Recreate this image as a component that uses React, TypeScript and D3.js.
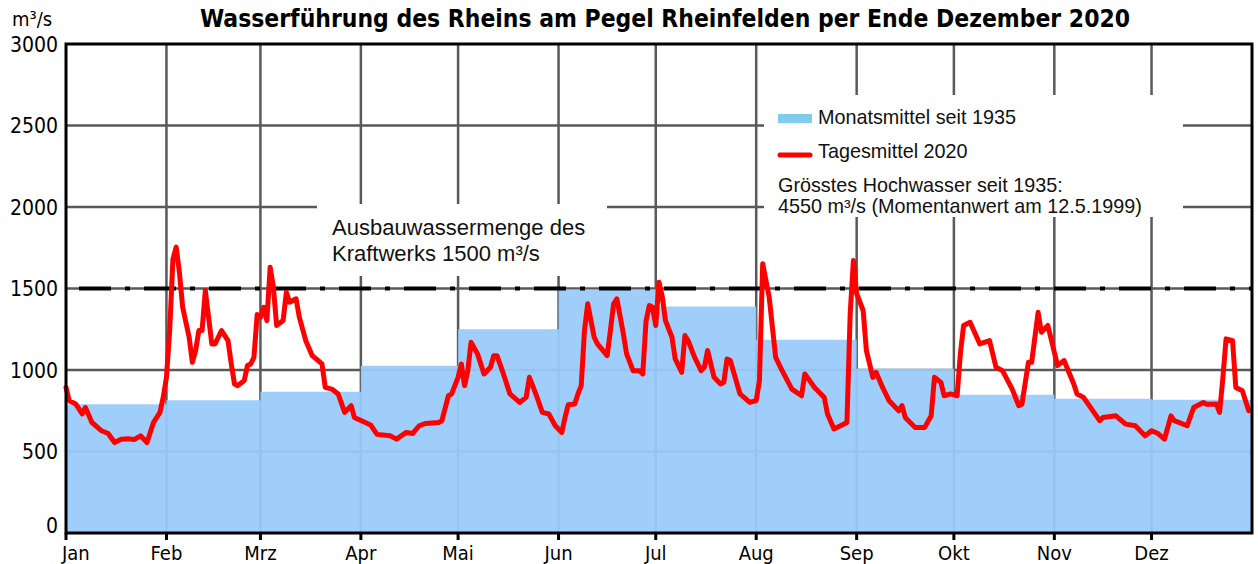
import React, { useEffect, useRef } from 'react';
import * as d3 from 'd3';

const monthLabels = ['Jan', 'Feb', 'Mrz', 'Apr', 'Mai', 'Jun', 'Jul', 'Aug', 'Sep', 'Okt', 'Nov', 'Dez'];

// Monatsmittel seit 1935 (m³/s)
const monthlyMean = [790, 815, 866, 1026, 1250, 1494, 1389, 1186, 1008, 848, 823, 817];

// Tagesmittel 2020: day of year (0 = 1 Jan) and value (m³/s)
const dailyDays = [
    0, 1, 3, 5, 6, 8, 11, 13, 15, 17, 19, 21, 23, 25, 27, 29, 30, 31, 32, 33,
    34, 35, 36, 38, 39, 40, 41, 42, 43, 44, 45, 46, 48, 50, 51, 52, 53, 55, 56, 57,
    58, 59, 60, 61, 62, 63, 64, 65, 67, 68, 69, 71, 72, 74, 76, 79, 80, 82, 84, 86,
    88, 89, 91, 94, 96, 100, 102, 105, 107, 109, 111, 115, 116, 118, 119, 121, 122, 123, 124, 125,
    127, 129, 131, 132, 133, 135, 137, 140, 142, 143, 145, 147, 149, 151, 153, 154, 155, 157, 158, 159,
    160, 161, 163, 164, 167, 168, 169, 170, 172, 173, 175, 177, 178, 179, 180, 181, 182, 183, 184, 185,
    187, 188, 190, 191, 192, 194, 196, 197, 198, 200, 202, 203, 204, 205, 208, 211, 213, 214, 215, 217,
    219, 221, 224, 227, 228, 231, 234, 235, 237, 241, 242, 243, 244, 246, 247, 249, 250, 252, 254, 257,
    258, 259, 262, 265, 267, 268, 270, 271, 273, 275, 276, 277, 279, 282, 285, 287, 289, 292, 294, 295,
    297, 298, 300, 301, 303, 306, 308, 311, 312, 314, 319, 320, 324, 327, 330, 333, 335, 337, 339, 341,
    342, 346, 348, 351, 352, 355, 356, 357, 358, 360, 361, 363, 365
];
const dailyValues = [
    893, 811, 792, 731, 770, 678, 627, 610, 555, 575, 578, 573, 596, 555, 678, 740, 832, 955, 1242, 1680,
    1754, 1600, 1385, 1201, 1047, 1119, 1242, 1242, 1488, 1324, 1160, 1160, 1242, 1180, 1037, 914, 904, 935, 1027, 1037,
    1078, 1340, 1324, 1385, 1303, 1631, 1508, 1273, 1303, 1477, 1416, 1437, 1324, 1180, 1088, 1037, 893, 883, 853, 740,
    781, 709, 690, 663, 605, 596, 576, 617, 611, 658, 672, 678, 689, 842, 853, 955, 1037, 904, 996, 1170,
    1099, 976, 1017, 1088, 1088, 976, 853, 801, 832, 955, 853, 740, 730, 658, 617, 709, 787, 791, 853, 904,
    1242, 1406, 1201, 1160, 1088, 1242, 1406, 1437, 1222, 1099, 996, 996, 976, 1300, 1396, 1385, 1273, 1539, 1450, 1303,
    1201, 1068, 986, 1211, 1180, 1078, 996, 1017, 1119, 955, 914, 924, 1068, 1058, 853, 801, 812, 935, 1652, 1447,
    1078, 996, 883, 842, 976, 893, 832, 730, 638, 678, 1345, 1672, 1468, 1365, 1119, 955, 986, 893, 812, 750,
    781, 709, 648, 648, 719, 955, 924, 842, 853, 842, 1100, 1273, 1293, 1160, 1180, 1017, 996, 883, 781, 790,
    1047, 1047, 1354, 1232, 1273, 1027, 1058, 914, 853, 832, 689, 709, 719, 668, 658, 596, 627, 610, 576, 719,
    689, 658, 770, 801, 790, 791, 740, 950, 1191, 1180, 893, 873, 750
];

const yTicks = [0, 500, 1000, 1500, 2000, 2500, 3000];
const capacity = 1500;

const App: React.FC = () => {
    const svgRef = useRef<SVGSVGElement>(null);

    useEffect(() => {
        if (!svgRef.current) return;
        document.body.style.margin = '0';

        const svg = d3.select(svgRef.current);
        svg.selectAll('*').remove();

        const width = 1258;
        const height = 564;
        const left = 66, right = 1252, top = 44, bottom = 533;
        const axisFont = "'DejaVu Sans Condensed', 'DejaVu Sans', sans-serif";
        const textFont = "'Liberation Sans', Arial, sans-serif";

        svg.attr('width', width).attr('height', height);

        const start = new Date(Date.UTC(2020, 0, 1));
        const end = new Date(Date.UTC(2021, 0, 1));
        const x = d3.scaleUtc().domain([start, end]).range([left, right]);
        const y = d3.scaleLinear().domain([0, 3000]).range([bottom, top]);
        const monthStarts = d3.utcMonth.range(start, end);
        const dayDate = (d: number) => d3.utcDay.offset(start, d);

        // grid
        const grid = svg.append('g').attr('stroke', '#595959').attr('stroke-width', 2.5);
        grid.selectAll('line.v')
            .data(monthStarts.slice(1))
            .enter().append('line')
            .attr('x1', d => x(d)).attr('x2', d => x(d))
            .attr('y1', top).attr('y2', bottom);
        grid.selectAll('line.h')
            .data(yTicks.filter(t => t > 0 && t < 3000))
            .enter().append('line')
            .attr('x1', left).attr('x2', right)
            .attr('y1', d => y(d)).attr('y2', d => y(d));

        // monthly means as steps
        const steps = monthStarts.map((m, i) => ({ date: m, v: monthlyMean[i] }));
        steps.push({ date: end, v: monthlyMean[monthlyMean.length - 1] });
        const area = d3.area<{ date: Date; v: number }>()
            .x(d => x(d.date))
            .y0(y(0))
            .y1(d => y(d.v))
            .curve(d3.curveStepAfter);
        svg.append('path')
            .datum(steps)
            .attr('d', area)
            .attr('fill', '#99CBFB')
            .attr('fill-opacity', 0.94);

        // annotation boxes
        svg.append('rect').attr('x', 317).attr('y', 204).attr('width', 290).attr('height', 72).attr('fill', '#fff');
        svg.append('rect').attr('x', 764).attr('y', 95).attr('width', 419).attr('height', 122).attr('fill', '#fff');

        // Ausbauwassermenge line
        svg.append('line')
            .attr('x1', left).attr('x2', right)
            .attr('y1', y(capacity)).attr('y2', y(capacity))
            .attr('stroke', '#000')
            .attr('stroke-width', 4)
            .attr('stroke-dasharray', '32,14,5,14')
            .attr('stroke-dashoffset', 52);

        // daily means 2020
        const line = d3.line<number>()
            .x((_, i) => x(dayDate(dailyDays[i])))
            .y(d => y(d));
        svg.append('path')
            .datum(dailyValues)
            .attr('d', line)
            .attr('fill', 'none')
            .attr('stroke', '#FF0000')
            .attr('stroke-width', 5)
            .attr('stroke-linejoin', 'round')
            .attr('stroke-linecap', 'round');

        // frame
        svg.append('rect')
            .attr('x', left).attr('y', top)
            .attr('width', right - left).attr('height', bottom - top)
            .attr('fill', 'none').attr('stroke', '#000').attr('stroke-width', 3);

        // x ticks and labels
        svg.append('g').selectAll('line')
            .data(monthStarts)
            .enter().append('line')
            .attr('x1', d => x(d)).attr('x2', d => x(d))
            .attr('y1', bottom).attr('y2', bottom + 7)
            .attr('stroke', '#000').attr('stroke-width', 3);
        svg.append('g').selectAll('text')
            .data(monthStarts)
            .enter().append('text')
            .attr('x', (d, i) => (i === 0 ? x(d) - 4 : x(d)))
            .attr('y', 560)
            .attr('text-anchor', (_, i) => (i === 0 ? 'start' : 'middle'))
            .attr('font-family', axisFont)
            .attr('font-size', 20)
            .attr('fill', '#000')
            .text((_, i) => monthLabels[i]);

        // y labels
        svg.append('g').selectAll('text')
            .data(yTicks)
            .enter().append('text')
            .attr('x', 58)
            .attr('y', d => Math.min(y(d), 525))
            .attr('dy', '0.36em')
            .attr('text-anchor', 'end')
            .attr('font-family', axisFont)
            .attr('font-size', 21)
            .attr('fill', '#000')
            .text(d => String(d));

        svg.append('text')
            .attr('x', 12).attr('y', 26)
            .attr('font-family', axisFont)
            .attr('font-size', 20)
            .text('m³/s');

        // title
        svg.append('text')
            .attr('x', 665).attr('y', 27)
            .attr('text-anchor', 'middle')
            .attr('font-family', axisFont)
            .attr('font-weight', 'bold')
            .attr('font-size', 24)
            .attr('textLength', 930)
            .attr('lengthAdjust', 'spacingAndGlyphs')
            .text('Wasserführung des Rheins am Pegel Rheinfelden per Ende Dezember 2020');

        // annotation text
        const ann = svg.append('g').attr('font-family', textFont).attr('font-size', 22).attr('fill', '#111');
        ann.append('text').attr('x', 332).attr('y', 235).text('Ausbauwassermenge des');
        ann.append('text').attr('x', 332).attr('y', 261).text('Kraftwerks 1500 m³/s');

        // legend
        const lg = svg.append('g').attr('font-family', textFont).attr('font-size', 19.8).attr('fill', '#111');
        lg.append('rect').attr('x', 778).attr('y', 114).attr('width', 34).attr('height', 9).attr('fill', '#80CCEE');
        lg.append('text').attr('x', 818).attr('y', 124).text('Monatsmittel seit 1935');
        lg.append('line').attr('x1', 780).attr('x2', 810).attr('y1', 155).attr('y2', 155)
            .attr('stroke', '#FF0000').attr('stroke-width', 5).attr('stroke-linecap', 'round');
        lg.append('text').attr('x', 818).attr('y', 158).text('Tagesmittel 2020');
        lg.append('text').attr('x', 778).attr('y', 192).text('Grösstes Hochwasser seit 1935:');
        lg.append('text').attr('x', 778).attr('y', 213).text('4550 m³/s (Momentanwert am 12.5.1999)');
    }, []);

    return <svg ref={svgRef} style={{ display: 'block' }}></svg>;
};

export default App;
